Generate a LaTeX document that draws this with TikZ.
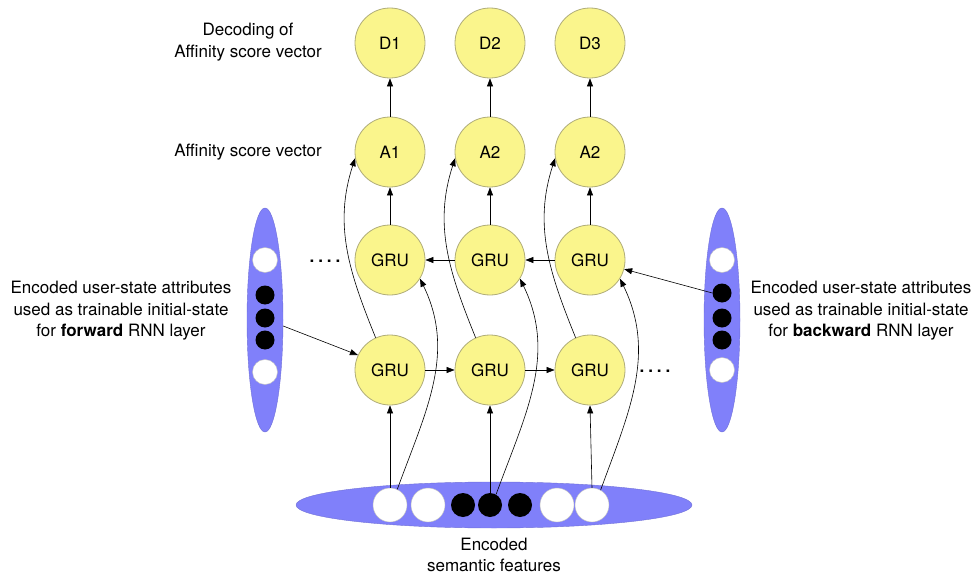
\documentclass[tikz,border=0pt]{standalone}
\usepackage{fontspec}
\setmainfont{TeX Gyre Heros}
\usetikzlibrary{arrows.meta,shapes.geometric}
\definecolor{cellyellow}{RGB}{250,245,140}
\definecolor{cellborder}{RGB}{175,172,120}
\definecolor{vecblue}{RGB}{128,128,250}
\definecolor{vecborder}{RGB}{112,112,215}

\tikzset{
  cell/.style={circle,draw=cellborder,fill=cellyellow,line width=0.8pt,minimum size=70pt,inner sep=0pt,font=\fontsize{17}{20}\selectfont},
  vec/.style={ellipse,draw=vecborder,fill=vecblue,inner sep=0pt},
  wbit/.style={circle,draw=gray!50,fill=white,inner sep=0pt},
  bbit/.style={circle,fill=black,inner sep=0pt},
  conn/.style={-{Triangle[length=8pt,width=6pt]},line width=0.6pt},
  lbl/.style={align=center,font=\fontsize{17}{21.5}\selectfont},
  dots/.style={anchor=base,font=\fontsize{17}{20}\bfseries}
}

\begin{document}
\begin{tikzpicture}[x=1pt,y=-1pt]
\useasboundingbox (0,0) rectangle (978,578);

%Decoders
\node[cell] (d1) at (390,43) {D1};
\node[cell] (d2) at (490,43) {D2};
\node[cell] (d3) at (590,43) {D3};
%Affinity scores
\node[cell] (a1) at (390,152) {A1};
\node[cell] (a2) at (490,152) {A2};
\node[cell] (a3) at (590,152) {A2};
%Backward GRU layer
\node[cell] (gt1) at (390,260) {GRU};
\node[cell] (gt2) at (490,260) {GRU};
\node[cell] (gt3) at (590,260) {GRU};
%Forward GRU layer
\node[cell] (gb1) at (390,370) {GRU};
\node[cell] (gb2) at (490,370) {GRU};
\node[cell] (gb3) at (590,370) {GRU};

%Left user-state vector
\node[vec,minimum width=36pt,minimum height=224pt] (lvec) at (265,320) {};
\node[wbit,minimum size=25pt] (lw1) at (265,260) {};
\node[bbit,minimum size=19pt] (lb1) at (265,295) {};
\node[bbit,minimum size=19pt] (lb2) at (265,318) {};
\node[bbit,minimum size=19pt] (lb3) at (265,340) {};
\node[wbit,minimum size=25pt] (lw2) at (265,372) {};
%Right user-state vector
\node[vec,minimum width=36pt,minimum height=224pt] (rvec) at (722,320) {};
\node[wbit,minimum size=25pt] (rw1) at (722,260) {};
\node[bbit,minimum size=19pt] (rb1) at (722,293) {};
\node[bbit,minimum size=19pt] (rb2) at (722,318) {};
\node[bbit,minimum size=19pt] (rb3) at (722,340) {};
\node[wbit,minimum size=25pt] (rw2) at (722,370) {};

%Semantic feature vector
\node[vec,minimum width=396pt,minimum height=46pt] (svec) at (494,505) {};
\node[wbit,minimum size=34pt] (e1) at (390,505) {};
\node[wbit,minimum size=34pt] (e2) at (428,505) {};
\node[bbit,minimum size=24pt] (e3) at (463,505) {};
\node[bbit,minimum size=24pt] (e4) at (490,505) {};
\node[bbit,minimum size=24pt] (e5) at (520,505) {};
\node[wbit,minimum size=34pt] (e6) at (557,505) {};
\node[wbit,minimum size=34pt] (e7) at (592,505) {};

%Vertical links
\foreach \c in {1,2,3}{
  \draw[conn] (gt\c) -- (a\c);
  \draw[conn] (a\c) -- (d\c);
}
\draw[conn] (e1.north) -- (gb1.south);
\draw[conn] (e4.north) -- (gb2.south);
\draw[conn] (e7.north) -- (gb3.south);

%Recurrent links
\draw[conn] (gb1) -- (gb2);
\draw[conn] (gb2) -- (gb3);
\draw[conn] (gt3) -- (gt2);
\draw[conn] (gt2) -- (gt1);

%Initial states
\draw[conn] ([yshift=-6pt]lvec.east) -- (gb1.155);
\draw[conn] (rb1.west) -- (gt3.-15);

%Forward outputs to affinity scores
\draw[conn] (gb1.114) to[out=112,in=-108] (a1.190);
\draw[conn] (gb2.114) to[out=112,in=-108] (a2.190);
\draw[conn] (gb3.114) to[out=112,in=-108] (a3.190);

%Semantic features to backward layer
\draw[conn] (e1.65) to[out=70,in=-64] (gt1.-32);
\draw[conn] (e4.60) to[out=70,in=-64] (gt2.-32);
\draw[conn] (e7.60) to[out=70,in=-64] (gt3.-32);

%Continuation dots
\node[dots] (ldots) at (325,262) {.\hspace{4pt}.\hspace{4pt}.\hspace{4pt}.};
\node[dots] (rdots) at (655,372) {.\hspace{4pt}.\hspace{4pt}.\hspace{4pt}.};

% Text Node
\node[lbl] (tdec) at (248,42) {Decoding of\\Affinity score vector};
\node[lbl] (taff) at (248,152) {Affinity score vector};
\node[lbl] (tfwd) at (121,311) {Encoded user-state attributes\\used as trainable initial-state\\for \textbf{forward} RNN layer};
\node[lbl] (tbwd) at (861,311) {Encoded user-state attributes\\used as trainable initial-state\\for \textbf{backward} RNN layer};
\node[lbl] (tsem) at (494,555) {Encoded\\semantic features};

\end{tikzpicture}
\end{document}
